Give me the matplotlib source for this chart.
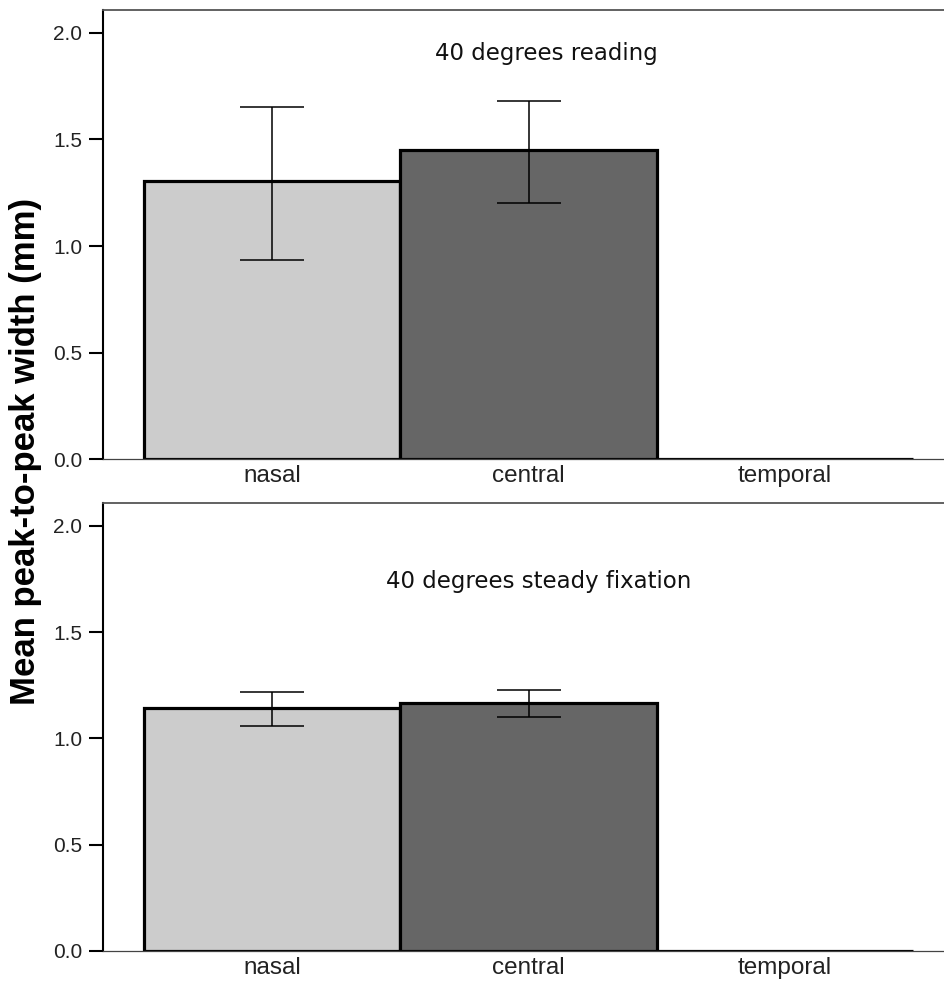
import matplotlib
matplotlib.use("Agg")
import matplotlib.pyplot as plt

regions = ["nasal", "central", "temporal"]
bar_colors = ["#cccccc", "#666666", "#ffffff"]

# 40 degrees reading
reading_mean = [1.305, 1.451, 0.0]
reading_lo = [0.934, 1.202, None]
reading_hi = [1.653, 1.681, None]

# 40 degrees steady fixation
fixation_mean = [1.145, 1.166, 0.0]
fixation_lo = [1.060, 1.100, None]
fixation_hi = [1.217, 1.228, None]

panel_titles = ["40 degrees reading", "40 degrees steady fixation"]
yticks = [0.0, 0.5, 1.0, 1.5, 2.0]

fig = plt.figure(figsize=(9.44, 9.88), dpi=100)
ax_top = fig.add_axes([0.1091, 0.5354, 0.8909, 0.4545])
ax_bot = fig.add_axes([0.1091, 0.03745, 0.8909, 0.4534])

panels = [
    (ax_top, reading_mean, reading_lo, reading_hi, panel_titles[0], (1.07, 1.906)),
    (ax_bot, fixation_mean, fixation_lo, fixation_hi, panel_titles[1], (1.04, 1.737)),
]

x = list(range(len(regions)))
for ax, mean, lo, hi, title, tpos in panels:
    ax.bar(x, mean, width=1.0, color=bar_colors, edgecolor="black",
           linewidth=2.3, zorder=2)
    ex = [i for i in x if lo[i] is not None]
    centers = [(lo[i] + hi[i]) / 2 for i in ex]
    halves = [(hi[i] - lo[i]) / 2 for i in ex]
    ax.errorbar(ex, centers, yerr=halves, fmt="none", ecolor="black",
                elinewidth=1.1, capsize=23, capthick=1.1, zorder=3)

    ax.set_xlim(-0.66, 2.62)
    ax.set_ylim(0, 2.108)
    ax.set_yticks(yticks)
    ax.set_yticklabels([f"{t:.1f}" for t in yticks], fontsize=15,
                       family="Liberation Sans", color="#222222")
    ax.set_xticks(x)
    ax.set_xticklabels(regions, fontsize=17.5, family="Liberation Sans",
                       color="#222222")
    ax.tick_params(axis="y", direction="out", length=10, width=1.5, pad=5)
    ax.tick_params(axis="x", length=0, pad=4)

    ax.spines["right"].set_visible(False)
    ax.spines["left"].set_linewidth(1.5)
    ax.spines["left"].set_color("black")
    ax.spines["top"].set_linewidth(1.3)
    ax.spines["top"].set_color("#555555")
    ax.spines["bottom"].set_linewidth(0.9)
    ax.spines["bottom"].set_color("#444444")

    ax.text(tpos[0], tpos[1], title, ha="center", va="center",
            fontsize=16.5, family="DejaVu Sans", color="#111111")

fig.text(0.0265, 0.5435, "Mean peak-to-peak width (mm)", rotation=90,
         ha="center", va="center", fontsize=25, fontweight="bold",
         family="Liberation Sans")

fig.savefig("out.png", dpi=100)
